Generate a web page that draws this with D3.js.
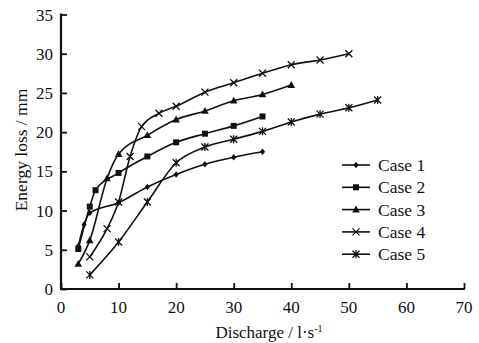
<!DOCTYPE html>
<html>
<head>
<meta charset="utf-8">
<script src="https://cdn.jsdelivr.net/npm/d3@7"></script>
<style>
  body { margin: 0; background: #fff; }
  text { font-family: "Liberation Serif", "DejaVu Serif", serif; fill: #111; }
</style>
</head>
<body>
<div class="chart"></div>
<script>
// Data
var case1 = [[3, 5.5], [4, 8.2], [5, 9.7], [10, 11], [15, 13], [20, 14.6], [25, 15.9], [30, 16.8], [35, 17.5]];
var case2 = [[3, 5.1], [5, 10.5], [6, 12.6], [10, 14.8], [15, 16.9], [20, 18.7], [25, 19.8], [30, 20.8], [35, 22]];
var case3 = [[3, 3.2], [5, 6.2], [8, 14.1], [10, 17.2], [15, 19.6], [20, 21.6], [25, 22.7], [30, 24], [35, 24.8], [40, 26]];
var case4 = [[5, 4.1], [8, 7.7], [10, 11.1], [12, 16.9], [14, 20.7], [17, 22.4], [20, 23.3], [25, 25.1], [30, 26.3], [35, 27.5], [40, 28.6], [45, 29.2], [50, 30]];
var case5 = [[5, 1.8], [10, 6], [15, 11.1], [20, 16.1], [25, 18.1], [30, 19.1], [35, 20.1], [40, 21.3], [45, 22.3], [50, 23.1], [55, 24.1]];

var seriesNames = ["Case 1", "Case 2", "Case 3", "Case 4", "Case 5"];
var seriesData = [case1, case2, case3, case4, case5];
var markers = ["diamond", "square", "triangle", "cross", "star"];

var xTicks = [0, 10, 20, 30, 40, 50, 60, 70];
var yTicks = [0, 5, 10, 15, 20, 25, 30, 35];

var width = 479, height = 343;

var svg = d3.select(".chart").append("svg")
            .attr("width", width)
            .attr("height", height);

var x = d3.scaleLinear().domain([0, 70]).range([61, 464]);
var y = d3.scaleLinear().domain([0, 35]).range([289, 14.5]);

// Axes, ticks pointing inward
var xAxis = svg.append("g")
               .attr("transform", "translate(0," + y(0) + ")")
               .call(d3.axisTop(x).tickValues(xTicks).tickSize(6).tickFormat(""));
var yAxis = svg.append("g")
               .attr("transform", "translate(" + x(0) + ",0)")
               .call(d3.axisRight(y).tickValues(yTicks).tickSize(6).tickFormat(""));

svg.selectAll(".tick line").attr("stroke", "#111").attr("stroke-width", 1.8);

// plain axis lines instead of the domain paths
xAxis.select(".domain").remove();
yAxis.select(".domain").remove();
svg.append("line")
   .attr("x1", x(0) - 1).attr("x2", x(70) + 1).attr("y1", y(0)).attr("y2", y(0))
   .attr("stroke", "#111").attr("stroke-width", 2.2);
svg.append("line")
   .attr("x1", x(0)).attr("x2", x(0)).attr("y1", y(0)).attr("y2", y(35) - 1)
   .attr("stroke", "#111").attr("stroke-width", 2.2);

// Tick labels
svg.selectAll(".xlab").data(xTicks).enter().append("text")
   .attr("x", function(d) { return x(d); })
   .attr("y", 313)
   .attr("text-anchor", "middle")
   .style("font-size", "17px")
   .text(function(d) { return d; });

svg.selectAll(".ylab").data(yTicks).enter().append("text")
   .attr("x", 53)
   .attr("y", function(d) { return y(d) + 6; })
   .attr("text-anchor", "end")
   .style("font-size", "17px")
   .text(function(d) { return d; });

// Axis titles
var xt = svg.append("text")
            .attr("x", 269)
            .attr("y", 338)
            .attr("text-anchor", "middle")
            .style("font-size", "17px");
xt.append("tspan").text("Discharge / l\u00b7s");
xt.append("tspan").attr("dy", -6).style("font-size", "10px").text("-1");

svg.append("text")
   .attr("transform", "translate(27,150) rotate(-90)")
   .attr("text-anchor", "middle")
   .style("font-size", "17.5px")
   .text("Energy loss / mm");

// Marker shapes
function drawMarker(g, type, cx, cy) {
  if (type === "diamond") {
    g.append("path")
     .attr("d", "M" + cx + "," + (cy - 3.2) + "L" + (cx + 2.6) + "," + cy + "L" + cx + "," + (cy + 3.2) + "L" + (cx - 2.6) + "," + cy + "Z")
     .attr("fill", "#111");
  } else if (type === "square") {
    g.append("rect")
     .attr("x", cx - 3).attr("y", cy - 3).attr("width", 6).attr("height", 6)
     .attr("fill", "#111");
  } else if (type === "triangle") {
    g.append("path")
     .attr("d", "M" + cx + "," + (cy - 4) + "L" + (cx + 3.8) + "," + (cy + 2.8) + "L" + (cx - 3.8) + "," + (cy + 2.8) + "Z")
     .attr("fill", "#111");
  } else if (type === "cross") {
    g.append("path")
     .attr("d", "M" + (cx - 3.5) + "," + (cy - 3.5) + "L" + (cx + 3.5) + "," + (cy + 3.5) +
                "M" + (cx + 3.5) + "," + (cy - 3.5) + "L" + (cx - 3.5) + "," + (cy + 3.5))
     .attr("stroke", "#111").attr("stroke-width", 1.3).attr("fill", "none");
  } else {
    g.append("path")
     .attr("d", "M" + (cx - 3.5) + "," + (cy - 3.5) + "L" + (cx + 3.5) + "," + (cy + 3.5) +
                "M" + (cx + 3.5) + "," + (cy - 3.5) + "L" + (cx - 3.5) + "," + (cy + 3.5) +
                "M" + cx + "," + (cy - 4) + "L" + cx + "," + (cy + 4))
     .attr("stroke", "#111").attr("stroke-width", 1.3).attr("fill", "none");
  }
}

// Lines
var line = d3.line()
             .x(function(d) { return x(d[0]); })
             .y(function(d) { return y(d[1]); })
             .curve(d3.curveMonotoneX);

seriesData.forEach(function(data, i) {
  svg.append("path")
     .datum(data)
     .attr("d", line)
     .attr("fill", "none")
     .attr("stroke", "#111")
     .attr("stroke-width", 1.6);
  var g = svg.append("g");
  data.forEach(function(d) {
    drawMarker(g, markers[i], x(d[0]), y(d[1]));
  });
});

// Legend
var legend = svg.append("g");
seriesNames.forEach(function(name, i) {
  var ly = 165 + i * 22.3;
  legend.append("line")
        .attr("x1", 342).attr("x2", 370).attr("y1", ly).attr("y2", ly)
        .attr("stroke", "#111").attr("stroke-width", 1.6);
  drawMarker(legend, markers[i], 356, ly);
  legend.append("text")
        .attr("x", 378)
        .attr("y", ly + 6)
        .style("font-size", "17.5px")
        .text(name);
});
</script>
</body>
</html>
